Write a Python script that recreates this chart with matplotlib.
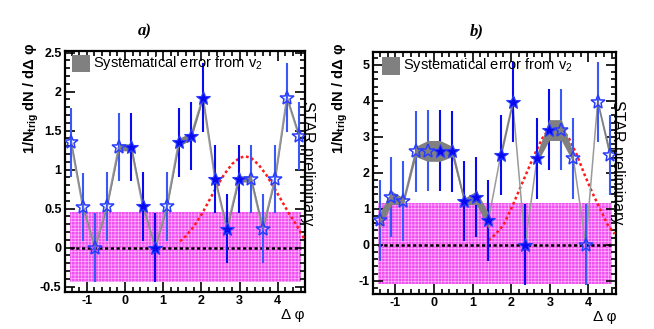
#!/usr/bin/env python3
"""Two-panel STAR-preliminary style correlation plot: 1/Ntrig dN/dDphi vs Dphi."""

import matplotlib
matplotlib.use("Agg")
import matplotlib.pyplot as plt
import numpy as np
from matplotlib.patches import Rectangle
from matplotlib.ticker import AutoMinorLocator, FuncFormatter, MultipleLocator

# bin centres in delta-phi
DPHI = [-1.41, -1.10, -0.79, -0.47, -0.16, 0.16, 0.47, 0.79, 1.10, 1.41,
        1.73, 2.04, 2.36, 2.67, 2.98, 3.30, 3.61, 3.93, 4.24, 4.56]

# panel a)
Y_A = [1.35, 0.52, 0.00, 0.53, 1.29, 1.29, 0.53, 0.00, 0.53, 1.35,
       1.43, 1.92, 0.88, 0.24, 0.88, 0.88, 0.24, 0.88, 1.92, 1.43]
ERR_A = [0.44] * 20
SYS_LO_A = [1.32, 0.50, -0.01, 0.51, 1.24, 1.24, 0.51, -0.01, 0.51, 1.30,
            1.38, 1.90, 0.86, 0.22, 0.84, 0.84, 0.22, 0.86, 1.90, 1.41]
SYS_HI_A = [1.38, 0.54, 0.01, 0.55, 1.33, 1.33, 0.55, 0.01, 0.55, 1.40,
            1.48, 1.94, 0.90, 0.26, 0.92, 0.92, 0.26, 0.90, 1.94, 1.45]
OPEN_A = [1, 1, 1, 1, 1, 0, 0, 0, 1, 0, 0, 0, 0, 0, 0, 1, 1, 1, 1, 1]
ZYAM_A = (-0.44, 0.45)
FIT_X_A = [1.44, 1.6, 1.8, 2.0, 2.2, 2.4, 2.6, 2.8, 3.0, 3.14,
           3.3, 3.5, 3.7, 3.9, 4.1, 4.3, 4.5, 4.68]
FIT_Y_A = [0.08, 0.15, 0.27, 0.42, 0.60, 0.78, 0.94, 1.07, 1.15, 1.17,
           1.15, 1.06, 0.93, 0.77, 0.60, 0.43, 0.28, 0.12]

# panel b)
Y_B = [0.68, 1.33, 1.22, 2.60, 2.62, 2.62, 2.60, 1.22, 1.33, 0.68,
       2.50, 3.97, 0.00, 2.40, 3.20, 3.20, 2.40, 0.00, 3.97, 2.50]
ERR_B = [1.12] * 20
SYS_LO_B = [0.45, 1.12, 1.12, 2.45, 2.32, 2.32, 2.45, 1.12, 1.12, 0.45,
            2.38, 3.88, np.nan, 2.28, 2.90, 2.90, 2.28, np.nan, 3.88, 2.38]
SYS_HI_B = [0.88, 1.50, 1.30, 2.74, 2.90, 2.90, 2.74, 1.30, 1.50, 0.88,
            2.62, 4.05, np.nan, 2.55, 3.48, 3.48, 2.55, np.nan, 4.05, 2.62]
OPEN_B = [1, 1, 1, 1, 1, 0, 0, 0, 0, 0, 0, 0, 0, 0, 0, 1, 1, 1, 1, 1]
ZYAM_B = (-1.10, 1.15)
FIT_X_B = [1.42, 1.6, 1.8, 2.0, 2.2, 2.4, 2.6, 2.8, 3.0, 3.14,
           3.3, 3.5, 3.7, 3.9, 4.1, 4.3, 4.5, 4.68]
FIT_Y_B = [0.12, 0.30, 0.55, 1.00, 1.50, 2.00, 2.50, 2.95, 3.25, 3.30,
           3.25, 2.95, 2.50, 1.95, 1.45, 1.00, 0.55, 0.30]
SYS_SEGMENTS_B = [(0, 10), (10, 12), (13, 17), (18, 20)]

BAND_X = (-1.45, 4.60)

BLUE = "#0a0af0"
BLUE_OPEN = "#3858f8"
GRAY = "#808080"

plt.rcParams.update({
    "font.family": ["Liberation Sans", "DejaVu Sans"],
    "mathtext.fontset": "custom",
    "mathtext.rm": "Liberation Sans",
    "mathtext.it": "Liberation Sans:italic",
    "mathtext.bf": "Liberation Sans:bold",
    "hatch.linewidth": 0.5,
})


def style_axis(ax, ylim, ymajor):
    ax.set_xlim(-np.pi / 2, 3 * np.pi / 2)
    ax.set_ylim(*ylim)
    ax.xaxis.set_major_locator(MultipleLocator(1))
    ax.xaxis.set_minor_locator(AutoMinorLocator(5))
    ax.yaxis.set_major_locator(MultipleLocator(ymajor))
    ax.yaxis.set_minor_locator(AutoMinorLocator(5))
    fmt = FuncFormatter(lambda v, p: f"{v:g}")
    ax.xaxis.set_major_formatter(fmt)
    ax.yaxis.set_major_formatter(fmt)
    ax.tick_params(which="both", direction="in", top=True, right=True, width=1.2,
                   labelsize=9, pad=2.5)
    ax.tick_params(which="major", length=7)
    ax.tick_params(which="minor", length=3.5)
    for lab in ax.get_xticklabels() + ax.get_yticklabels():
        lab.set_fontweight("bold")
    for sp in ax.spines.values():
        sp.set_linewidth(1.6)


def draw_panel(ax, y, err, sys_lo, sys_hi, is_open, zyam, fit_x, fit_y,
               segments, line_lw):
    x = np.array(DPHI)
    y = np.array(y)
    err = np.array(err)
    is_open = np.array(is_open, dtype=bool)

    ax.fill_between(BAND_X, [zyam[0]] * 2, [zyam[1]] * 2, facecolor="#f050f0",
                    edgecolor="#ffb4ff", hatch="+++++", linewidth=0, zorder=1)
    ax.hlines(0, BAND_X[0], BAND_X[1], colors="black", lw=1.8,
              linestyles=(0, (1.3, 1.0)), zorder=2)
    ax.plot(fit_x, fit_y, color="#ff1a1a", lw=1.8, ls=(0, (1.1, 1.1)), zorder=3)

    ax.plot(x, y, color="#9a9a9a", lw=line_lw, zorder=4)
    ax.vlines(x[~is_open], y[~is_open] - err[~is_open], y[~is_open] + err[~is_open],
              colors=BLUE, lw=1.5, zorder=4)
    ax.vlines(x[is_open], y[is_open] - err[is_open], y[is_open] + err[is_open],
              colors=BLUE_OPEN, lw=1.5, zorder=4)
    lo = np.array(sys_lo)
    hi = np.array(sys_hi)
    for a, b in segments:
        ax.fill_between(x[a:b], lo[a:b], hi[a:b], color=GRAY, lw=0, zorder=5)

    ax.plot(x[~is_open], y[~is_open], ls="none", marker="*", ms=10,
            mfc=BLUE, mec="#2a3cff", mew=0.8, zorder=6)
    ax.plot(x[is_open], y[is_open], ls="none", marker="*", ms=10,
            mfc="none", mec="#2a3cff", mew=1.1, zorder=6)


def legend_box(ax, box_x, box_y, box_w, box_h, text_x, text_y):
    ax.add_patch(Rectangle((box_x, box_y), box_w, box_h, transform=ax.transAxes,
                           facecolor=GRAY, edgecolor="none", zorder=7))
    ax.text(text_x, text_y, r"Systematical error from v$_{\mathrm{2}}$",
            transform=ax.transAxes, fontsize=10.5, ha="left", va="center", zorder=7)


fig = plt.figure(figsize=(6.54, 3.29), dpi=100)
ax_a = fig.add_axes([0.0994, 0.1125, 0.367, 0.7325])
ax_b = fig.add_axes([0.5708, 0.1064, 0.371, 0.7365])

draw_panel(ax_a, Y_A, ERR_A, SYS_LO_A, SYS_HI_A, OPEN_A, ZYAM_A, FIT_X_A, FIT_Y_A,
           [(0, 20)], 1.6)
draw_panel(ax_b, Y_B, ERR_B, SYS_LO_B, SYS_HI_B, OPEN_B, ZYAM_B, FIT_X_B, FIT_Y_B,
           SYS_SEGMENTS_B, 1.1)
style_axis(ax_a, (-0.57, 2.52), 0.5)
style_axis(ax_b, (-1.37, 5.37), 1)

legend_box(ax_a, 0.029, 0.913, 0.075, 0.07, 0.117, 0.950)
legend_box(ax_b, 0.035, 0.904, 0.076, 0.074, 0.122, 0.945)

ylabel = r"1/N$_{\mathbf{trig}}$ dN / dΔ φ"
fig.text(31 / 654, 1 - 43 / 329, ylabel, rotation=90, ha="center", va="top",
         fontsize=10.5, fontweight="bold")
fig.text(340 / 654, 1 - 43 / 329, ylabel, rotation=90, ha="center", va="top",
         fontsize=10.5, fontweight="bold")

for xp, yp in ((307, 163), (617, 162)):
    fig.text(xp / 654, 1 - yp / 329, "STAR preliminary", rotation=-90,
             ha="center", va="center", fontsize=11.5)

for xp, yp in ((293, 315), (605, 317)):
    fig.text(xp / 654, 1 - yp / 329, "Δ φ", ha="center", va="center", fontsize=11)

for xp, lab in ((145, "a)"), (477, "b)")):
    fig.text(xp / 654, 1 - 31 / 329, lab, ha="center", va="center", fontsize=12,
             fontweight="bold", style="italic", family="Liberation Serif")

fig.savefig("out.png", dpi=100)
